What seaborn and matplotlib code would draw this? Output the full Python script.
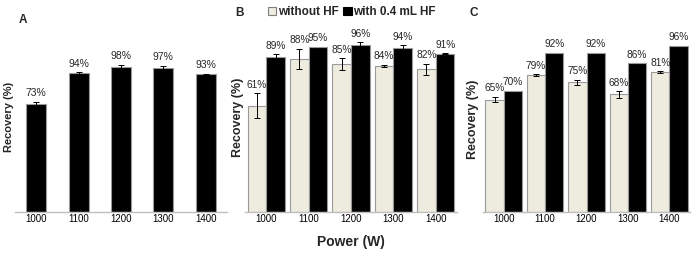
import matplotlib
matplotlib.use("Agg")
import matplotlib.pyplot as plt
from matplotlib.patches import Patch
import numpy as np
import pandas as pd
import seaborn as sns

powers = ["1000", "1100", "1200", "1300", "1400"]

# panel A
rec_a = [73, 94, 98, 97, 93]
err_a = [1.5, 0.5, 1.6, 1.8, 0.5]

# panel B
rec_b_without = [61, 88, 85, 84, 82]
err_b_without = [7.2, 5.7, 3.4, 0.5, 3.3]
rec_b_with = [89, 95, 96, 94, 91]
err_b_with = [1.7, 0.0, 1.7, 1.7, 0.3]

# panel C
rec_c_without = [65, 79, 75, 68, 81]
err_c_without = [1.5, 0.5, 1.5, 1.9, 0.5]
rec_c_with = [70, 92, 92, 86, 96]
err_c_with = [0, 0, 0, 0, 0]

conditions = ["without HF", "with 0.4 mL HF"]

LIGHT = "#EEEBDF"
EDGE = "#9A9A9A"
W, H = 700, 258


def px_axes(fig, left, right, base, px_per_unit, ymax):
    height = px_per_unit * ymax
    return fig.add_axes([left / W, (H - base) / H, (right - left) / W, height / H])


def style(ax, ymax):
    ax.set_ylim(0, ymax)
    ax.set_xlim(-0.5, 4.5)
    for s in ["top", "right", "left"]:
        ax.spines[s].set_visible(False)
    ax.spines["bottom"].set_color("#BFBFBF")
    ax.spines["bottom"].set_linewidth(1.0)
    ax.set_yticks([])
    ax.tick_params(axis="x", length=0, pad=1.5, labelsize=7, labelcolor="black")
    ax.set_xlabel("")


def annotate(ax, containers, errs, size):
    for cont, err in zip(containers, errs):
        for bar, e in zip(cont, err):
            cx = bar.get_x() + bar.get_width() / 2
            h = bar.get_height()
            if e > 0:
                ax.errorbar(cx, h, yerr=e, fmt="none", ecolor="black", elinewidth=0.7,
                            capsize=2, capthick=0.7, zorder=5)
            ax.annotate(f"{h:.0f}%", (cx, h + e), xytext=(0, 2.5), textcoords="offset points",
                        ha="center", va="bottom", fontsize=size)


sns.set_style("white")
plt.rcParams["font.family"] = ["Liberation Sans", "DejaVu Sans"]

fig = plt.figure(figsize=(7, 2.58), dpi=100)

# ---- A
ax_a = px_axes(fig, 15, 227, 212, 1.48, 120)
df_a = pd.DataFrame({"power": powers, "recovery": rec_a})
sns.barplot(data=df_a, x="power", y="recovery", color="black", width=0.47, saturation=1,
            edgecolor=EDGE, linewidth=0.8, errorbar=None, ax=ax_a)
style(ax_a, 120)
annotate(ax_a, ax_a.containers, [err_a], 7.5)
ax_a.set_ylabel("Recovery (%)", fontsize=8, fontweight="bold")
ax_a.yaxis.set_label_coords(-0.005, 0.535)


def grouped(ax, without, with_):
    df = pd.DataFrame({
        "power": powers * 2,
        "recovery": without + with_,
        "condition": [conditions[0]] * 5 + [conditions[1]] * 5,
    })
    sns.barplot(data=df, x="power", y="recovery", hue="condition", hue_order=conditions,
                palette=[LIGHT, "black"], width=0.88, gap=0, saturation=1,
                edgecolor=EDGE, linewidth=0.8, errorbar=None, legend=False, ax=ax)


# ---- B
ax_b = px_axes(fig, 245, 457, 212, 1.74, 105)
grouped(ax_b, rec_b_without, rec_b_with)
style(ax_b, 105)
annotate(ax_b, ax_b.containers, [err_b_without, err_b_with], 7.3)
ax_b.set_ylabel("Recovery (%)", fontsize=9, fontweight="bold")
ax_b.yaxis.set_label_coords(-0.005, 0.52)
ax_b.set_xlabel("Power (W)", fontsize=10, fontweight="bold")
ax_b.xaxis.set_label_coords(0.5, -0.125)

# ---- C
ax_c = px_axes(fig, 483, 690, 212, 1.73, 105)
grouped(ax_c, rec_c_without, rec_c_with)
style(ax_c, 105)
annotate(ax_c, ax_c.containers, [err_c_without, err_c_with], 7.3)
ax_c.set_ylabel("Recovery (%)", fontsize=9, fontweight="bold")
ax_c.yaxis.set_label_coords(-0.02, 0.51)

# panel letters
for letter, x, y in [("A", 23, 20), ("B", 240, 12.5), ("C", 474, 13.5)]:
    fig.text(x / W, 1 - y / H, letter, ha="center", va="center", fontsize=8.5, fontweight="bold")

handles = [Patch(facecolor=LIGHT, edgecolor="#7F7F7F", linewidth=0.8),
           Patch(facecolor="black", edgecolor="black", linewidth=0.8)]
fig.legend(handles, conditions, loc="center", bbox_to_anchor=(352 / W, 1 - 12 / H),
           ncol=2, frameon=False, handlelength=0.7, handleheight=0.7, handletextpad=0.15,
           columnspacing=0.4, borderpad=0, prop={"weight": "bold", "size": 8.5})

fig.savefig("out.png", dpi=100)
